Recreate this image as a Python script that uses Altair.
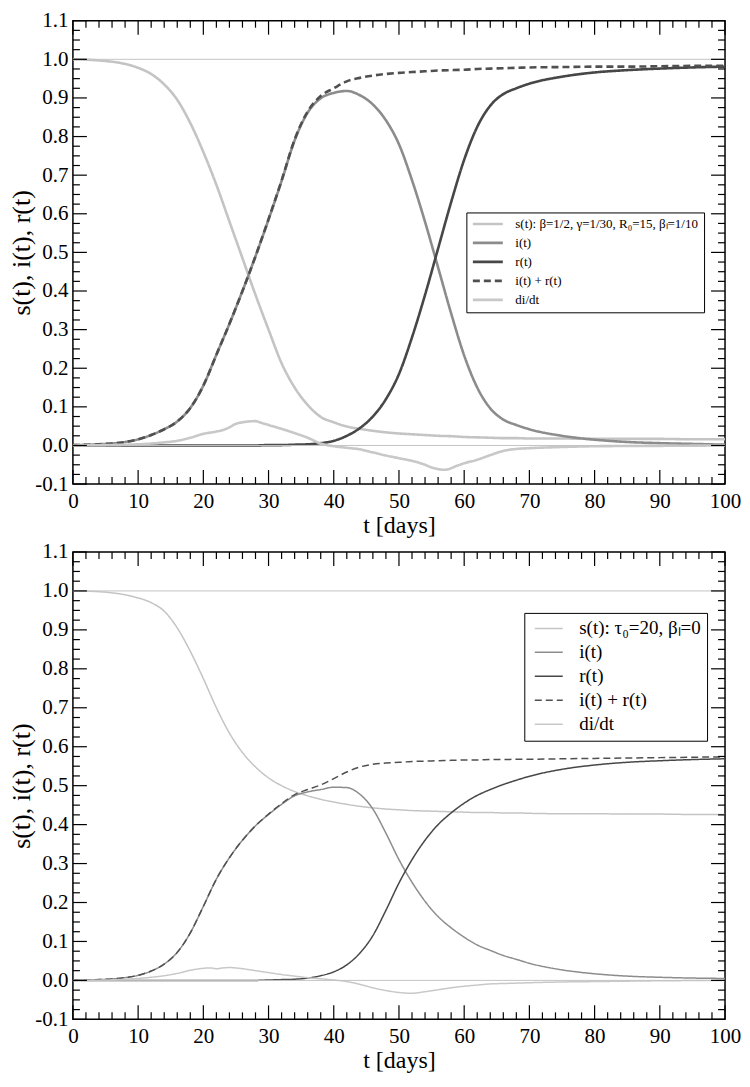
import altair as alt
import pandas as pd

FONT = "Liberation Serif, Times New Roman, serif"

# ---------------- axis tick values ----------------
X_MAJOR = [0, 10, 20, 30, 40, 50, 60, 70, 80, 90, 100]
Y_MAJOR = [-0.1, 0.0, 0.1, 0.2, 0.3, 0.4, 0.5, 0.6, 0.7, 0.8, 0.9, 1.0, 1.1]
X_MINOR = [v for v in range(0, 101, 2) if v % 10]
Y_MINOR = [round(-0.1 + k * 0.025, 4) for k in range(49) if k % 4]
REF_LINES = [0.0, 1.0]

SERIES_TOP = ["s(t): β=1/2, γ=1/30, R₀=15, βₗ=1/10", "i(t)", "r(t)", "i(t) + r(t)", "di/dt"]
SERIES_BOT = ["s(t): τ₀=20, βₗ=0", "i(t)", "r(t)", "i(t) + r(t)", "di/dt"]

# ---------------- top panel data ----------------
T1 = [0, 4, 8, 10, 12, 14, 16, 18, 20, 22,
      24, 26, 28, 30, 32, 34, 36, 38, 40, 42,
      44, 46, 48, 50, 52, 54, 56, 58, 60, 62,
      64, 66, 68, 70, 75, 80, 85, 90, 95, 100]
S1 = [1.0, 0.997, 0.988, 0.978, 0.962, 0.935, 0.895, 0.835, 0.76, 0.675,
      0.58, 0.485, 0.39, 0.30, 0.213, 0.15, 0.105, 0.074, 0.06, 0.049,
      0.043, 0.038, 0.034, 0.031, 0.029, 0.027, 0.025, 0.024, 0.022, 0.021,
      0.02, 0.019, 0.019, 0.018, 0.018, 0.017, 0.017, 0.017, 0.016, 0.016]
I1 = [0.001, 0.003, 0.009, 0.016, 0.027, 0.042, 0.062, 0.097, 0.155, 0.235,
      0.315, 0.4, 0.49, 0.585, 0.685, 0.79, 0.862, 0.899, 0.913, 0.918,
      0.907, 0.883, 0.842, 0.78, 0.687, 0.579, 0.461, 0.342, 0.233, 0.15,
      0.096, 0.067, 0.053, 0.042, 0.025, 0.015, 0.009, 0.006, 0.004, 0.002]
R1 = [0.0, 0.0, 0.0, 0.0, 0.0, 0.0, 0.0, 0.0, 0.0, 0.0,
      0.0, 0.0, 0.0, 0.001, 0.001, 0.002, 0.003, 0.006, 0.012, 0.025,
      0.045, 0.075, 0.12, 0.185, 0.28, 0.39, 0.51, 0.63, 0.74, 0.825,
      0.88, 0.91, 0.925, 0.937, 0.955, 0.966, 0.972, 0.976, 0.979, 0.981]
D1 = [0.001, 0.003, 0.009, 0.016, 0.027, 0.042, 0.062, 0.097, 0.155, 0.235,
      0.315, 0.4, 0.49, 0.586, 0.686, 0.792, 0.865, 0.905, 0.925, 0.943,
      0.952, 0.958, 0.962, 0.965, 0.967, 0.969, 0.971, 0.972, 0.973, 0.975,
      0.976, 0.977, 0.978, 0.979, 0.98, 0.981, 0.981, 0.982, 0.983, 0.983]
TD1 = [0, 5, 10, 12, 14, 16, 18, 20, 22, 23,
       24, 25, 26, 28, 29, 30, 32, 34, 36, 38,
       40, 42, 44, 46, 48, 50, 52, 54, 55, 57,
       59, 60, 62, 64, 66, 68, 70, 75, 80, 90, 100]
DD1 = [0.0, 0.001, 0.003, 0.005, 0.008, 0.012, 0.02, 0.03, 0.036, 0.04,
       0.047, 0.056, 0.06, 0.063, 0.058, 0.053, 0.043, 0.032, 0.02, 0.005,
       -0.002, -0.006, -0.01, -0.018, -0.026, -0.033, -0.04, -0.05, -0.057, -0.063,
       -0.052, -0.046, -0.037, -0.025, -0.014, -0.009, -0.007, -0.004, -0.002, -0.001, 0.0]

# ---------------- bottom panel data ----------------
T2 = T1
S2 = [1.0, 0.998, 0.99, 0.982, 0.97, 0.948, 0.905, 0.845, 0.775, 0.70,
      0.635, 0.585, 0.548, 0.52, 0.5, 0.485, 0.474, 0.465, 0.458, 0.452,
      0.447, 0.443, 0.44, 0.438, 0.436, 0.435, 0.434, 0.433, 0.432, 0.431,
      0.431, 0.43, 0.43, 0.429, 0.428, 0.428, 0.427, 0.427, 0.426, 0.426]
I2 = [0.0, 0.002, 0.007, 0.013, 0.024, 0.042, 0.072, 0.122, 0.19, 0.26,
      0.315, 0.36, 0.397, 0.426, 0.452, 0.474, 0.484, 0.49, 0.496, 0.495,
      0.478, 0.44, 0.378, 0.31, 0.252, 0.203, 0.164, 0.135, 0.111, 0.091,
      0.077, 0.064, 0.054, 0.044, 0.027, 0.017, 0.011, 0.008, 0.006, 0.005]
R2 = [0.0, 0.0, 0.0, 0.0, 0.0, 0.0, 0.0, 0.0, 0.0, 0.0,
      0.0, 0.0, 0.0, 0.001, 0.002, 0.003, 0.006, 0.012, 0.022, 0.04,
      0.07, 0.115, 0.18, 0.25, 0.31, 0.36, 0.4, 0.43, 0.455, 0.475,
      0.49, 0.503, 0.514, 0.524, 0.542, 0.553, 0.56, 0.564, 0.567, 0.569]
D2 = [0.0, 0.002, 0.007, 0.013, 0.024, 0.042, 0.072, 0.122, 0.19, 0.26,
      0.315, 0.36, 0.397, 0.427, 0.454, 0.477, 0.49, 0.502, 0.518, 0.535,
      0.548, 0.555, 0.558, 0.56, 0.562, 0.563, 0.564, 0.565, 0.566, 0.566,
      0.567, 0.567, 0.568, 0.568, 0.569, 0.57, 0.571, 0.572, 0.573, 0.574]
TD2 = [0, 5, 8, 10, 12, 14, 16, 18, 20, 21,
       22, 23, 24, 26, 28, 30, 32, 34, 36, 38,
       40, 42, 44, 46, 48, 50, 52, 54, 56, 58,
       60, 62, 64, 66, 68, 70, 75, 80, 90, 100]
DD2 = [0.0, 0.001, 0.003, 0.005, 0.008, 0.012, 0.018, 0.026, 0.031, 0.032,
       0.03, 0.032, 0.033, 0.03, 0.025, 0.02, 0.015, 0.011, 0.007, 0.004,
       0.001, -0.003, -0.01, -0.019, -0.026, -0.031, -0.033, -0.029, -0.024, -0.019,
       -0.015, -0.012, -0.009, -0.008, -0.007, -0.006, -0.004, -0.003, -0.001, 0.0]

COLORS = ["#c4c4c4", "#8c8c8c", "#474747", "#505050", "#c8c8c8"]
DASHES = [[1, 0], [1, 0], [1, 0], [7, 4], [1, 0]]
WIDTH_TOP = [2.6, 2.6, 2.6, 1.4, 1.4]
WIDTH_BOT = [1.5, 1.5, 1.8, 1.4, 1.4]


def long_df(names, ts_list, vs_list):
    rows = []
    for order, (n, ts, vs) in enumerate(zip(names, ts_list, vs_list)):
        for t, v in zip(ts, vs):
            rows.append({"series": n, "order": order, "t": t, "v": v})
    return pd.DataFrame(rows)


def panel(names, ts_list, vs_list, widths, W, H, leg):
    df = long_df(names, ts_list, vs_list)
    xs = alt.Scale(domain=[0, 100], nice=False, zero=False)
    ys = alt.Scale(domain=[-0.1, 1.1], nice=False, zero=False)

    x_axis = alt.Axis(values=X_MAJOR, ticks=False, domain=False, grid=False,
                      labelFont=FONT, labelFontSize=21, labelColor="black",
                      labelPadding=6, labelFlush=False, labelOverlap=False,
                      title="t [days]", titleFont=FONT, titleFontSize=24,
                      titleFontWeight="normal", titleColor="black", titlePadding=2)
    y_axis = alt.Axis(values=Y_MAJOR, ticks=False, domain=False, grid=False,
                      labelExpr="replace(format(datum.value, '.1f'), '\u2212', '-')",
                      labelFont=FONT, labelFontSize=21, labelColor="black",
                      labelPadding=5, labelFlush=False, labelOverlap=False,
                      title="s(t), i(t), r(t)", titleFont=FONT, titleFontSize=26,
                      titleFontWeight="normal", titleColor="black", titlePadding=0)
    XQ = alt.X("t:Q", scale=xs, axis=x_axis)
    YQ = alt.Y("v:Q", scale=ys, axis=y_axis)

    lines = alt.Chart(df).mark_line(interpolate="monotone").encode(
        x=XQ, y=YQ,
        color=alt.Color("series:N", scale=alt.Scale(domain=names, range=COLORS), legend=leg),
        strokeDash=alt.StrokeDash("series:N", scale=alt.Scale(domain=names, range=DASHES), legend=leg),
        strokeWidth=alt.StrokeWidth("series:N", scale=alt.Scale(domain=names, range=widths), legend=leg),
        order=alt.Order("order:Q"),
    )

    refs = alt.Chart(pd.DataFrame({"v": REF_LINES})).mark_rule(
        color="#c4c4c4", strokeWidth=1).encode(y=YQ)

    xmaj = alt.Chart(pd.DataFrame({"t": X_MAJOR}))
    xmin = alt.Chart(pd.DataFrame({"t": X_MINOR}))
    ymaj = alt.Chart(pd.DataFrame({"v": Y_MAJOR}))
    ymin = alt.Chart(pd.DataFrame({"v": Y_MINOR}))
    tick = dict(color="black", strokeWidth=1.2)
    ticks = [
        xmaj.mark_rule(**tick).encode(x=XQ, y=alt.value(H), y2=alt.value(H - 14)),
        xmaj.mark_rule(**tick).encode(x=XQ, y=alt.value(0), y2=alt.value(14)),
        xmin.mark_rule(**tick).encode(x=XQ, y=alt.value(H), y2=alt.value(H - 7)),
        xmin.mark_rule(**tick).encode(x=XQ, y=alt.value(0), y2=alt.value(7)),
        ymaj.mark_rule(**tick).encode(y=YQ, x=alt.value(0), x2=alt.value(14)),
        ymaj.mark_rule(**tick).encode(y=YQ, x=alt.value(W), x2=alt.value(W - 14)),
        ymin.mark_rule(**tick).encode(y=YQ, x=alt.value(0), x2=alt.value(7)),
        ymin.mark_rule(**tick).encode(y=YQ, x=alt.value(W), x2=alt.value(W - 7)),
    ]
    return alt.layer(lines, refs, *ticks).properties(width=W, height=H)


leg_top = alt.Legend(title=None, orient="none", legendX=394, legendY=192,
                     strokeColor="black", fillColor="white", padding=5,
                     symbolType="M-1,0H5", symbolSize=100, labelFont=FONT,
                     labelFontSize=13, labelColor="black", rowPadding=5,
                     labelOffset=31, labelLimit=400)
leg_bot = alt.Legend(title=None, orient="none", legendX=452, legendY=61,
                     strokeColor="black", fillColor="white", padding=6,
                     symbolType="M-1,0H4.6", symbolSize=100, labelFont=FONT,
                     labelFontSize=19, labelColor="black", rowPadding=4,
                     labelOffset=30, labelLimit=400)

top = panel(SERIES_TOP, [T1, T1, T1, T1, TD1], [S1, I1, R1, D1, DD1],
            WIDTH_TOP, 653, 464, leg_top)
bottom = panel(SERIES_BOT, [T2, T2, T2, T2, TD2], [S2, I2, R2, D2, DD2],
               WIDTH_BOT, 653, 468, leg_bot)

chart = alt.vconcat(top, bottom, spacing=68, bounds="flush").resolve_scale(
    color="independent", strokeDash="independent", strokeWidth="independent",
    x="independent", y="independent"
).properties(
    padding={"left": 0, "top": 0, "right": 0, "bottom": 0},
).configure_view(
    stroke="black", strokeWidth=1.5
).configure_axis(
    labelFont=FONT, titleFont=FONT, labelColor="black", titleColor="black"
).configure_legend(
    labelFont=FONT
).configure_text(font=FONT)

chart.save("out.html", embed_options={"renderer": "svg", "actions": False})
